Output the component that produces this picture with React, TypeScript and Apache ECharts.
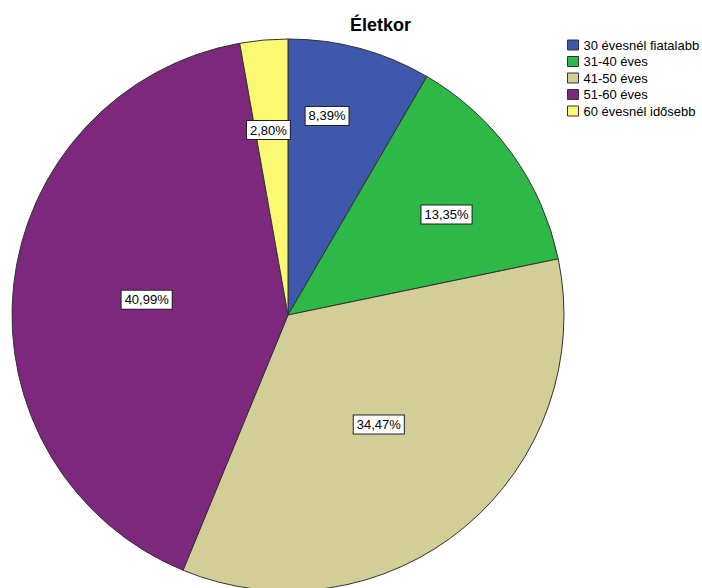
import React, { useEffect, useRef } from "react";
import * as echarts from "echarts";

const titleText = "Életkor";
const categories = [
  "30 évesnél fiatalabb",
  "31-40 éves",
  "41-50 éves",
  "51-60 éves",
  "60 évesnél idősebb",
];
const percentages = [8.39, 13.35, 34.47, 40.99, 2.8];
const sliceColors = ["#3E58AC", "#2EB848", "#D3CE97", "#7C287D", "#FBF873"];
// label placement (styling only): distance from centre as a fraction of the radius,
// and a small angular nudge in degrees (clockwise) from the slice's mid-angle
const labelRadiusFractions = [0.735, 0.68, 0.515, 0.515, 0.674];
const labelAngleNudges = [-4, 3.4, 0, 0, -1];

const CX = 288;
const CY = 315;
const R = 276;

export default function App() {
  const ref = useRef<HTMLDivElement>(null);
  useEffect(() => {
    if (!ref.current) return;
    const chart = echarts.init(ref.current, undefined, { renderer: "svg" });
    chart.setOption({
      animation: false,
      backgroundColor: "#ffffff",
      title: {
        text: titleText,
        left: 345,
        top: 11,
        textStyle: {
          fontFamily: "Liberation Sans, Arial, sans-serif",
          fontSize: 18,
          fontWeight: "bold",
          color: "#000",
        },
      },
      legend: {
        orient: "vertical",
        left: 567,
        top: 38,
        padding: 0,
        itemWidth: 11,
        itemHeight: 10,
        itemGap: 2.5,
        icon: "rect",
        data: categories,
        itemStyle: { borderColor: "#333", borderWidth: 1 },
        textStyle: {
          fontFamily: "Liberation Sans, Arial, sans-serif",
          fontSize: 13,
          lineHeight: 14,
          color: "#000",
        },
      },
      series: [
        {
          type: "pie",
          center: [CX, CY],
          radius: [0, R],
          startAngle: 90,
          clockwise: true,
          avoidLabelOverlap: false,
          emphasis: { disabled: true },
          itemStyle: { borderColor: "#333", borderWidth: 1 },
          label: {
            show: true,
            position: "inside",
            formatter: (p: any) => p.value.toFixed(2).replace(".", ",") + "%",
            fontFamily: "Liberation Sans, Arial, sans-serif",
            fontSize: 13,
            color: "#000",
            backgroundColor: "#fff",
            borderColor: "#222",
            borderWidth: 1,
            padding: [3, 3, 2, 3],
          },
          labelLine: { show: false },
          labelLayout: (params: any) => {
            const r = params.labelRect;
            const lx = r.x + r.width / 2;
            const ly = r.y + r.height / 2;
            const dx = lx - CX;
            const dy = ly - CY;
            const len = Math.sqrt(dx * dx + dy * dy) || 1;
            const i = params.dataIndex;
            const target = labelRadiusFractions[i] * R;
            const th = (labelAngleNudges[i] * Math.PI) / 180;
            const ux = dx / len;
            const uy = dy / len;
            const rx = ux * Math.cos(th) - uy * Math.sin(th);
            const ry = ux * Math.sin(th) + uy * Math.cos(th);
            return {
              dx: rx * target - dx,
              dy: ry * target - dy,
            };
          },
          data: categories.map((name, i) => ({
            name,
            value: percentages[i],
            itemStyle: { color: sliceColors[i] },
          })),
        },
      ],
    });
    return () => chart.dispose();
  }, []);
  return (
    <div
      ref={ref}
      style={{ position: "absolute", left: 0, top: 0, width: 702, height: 588 }}
    />
  );
}
